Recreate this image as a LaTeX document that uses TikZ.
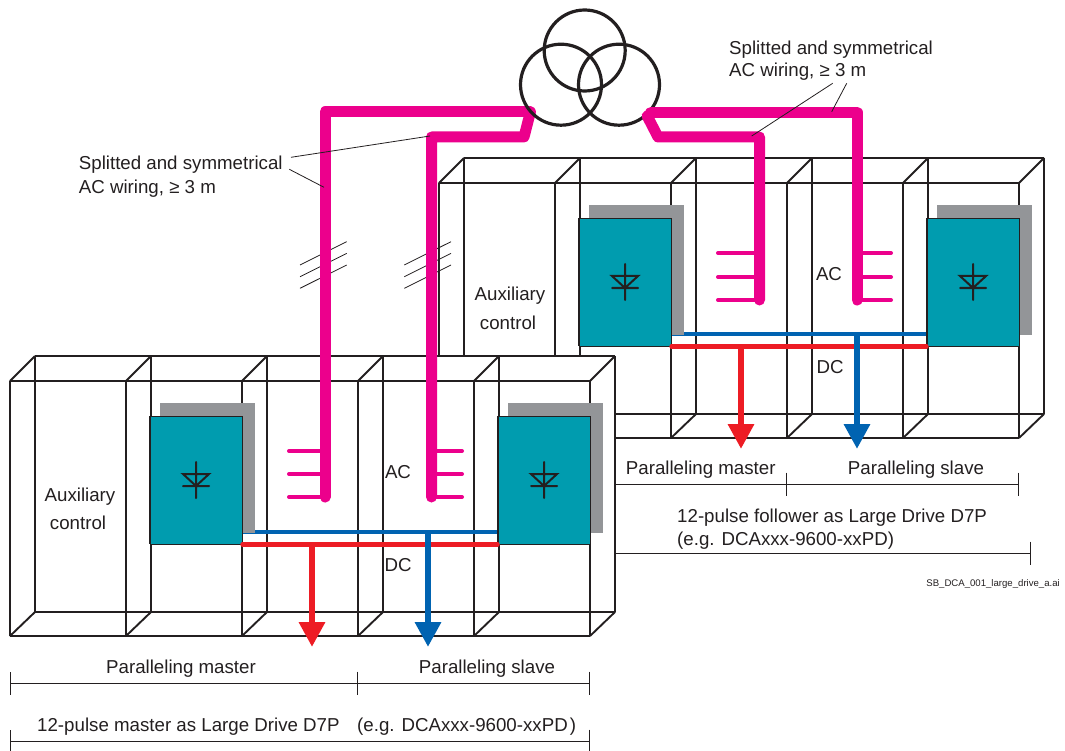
\documentclass[tikz,border=0pt]{standalone}
\usepackage{fontspec}
\setmainfont{Liberation Sans}
\usetikzlibrary{positioning, arrows.meta, calc}

\definecolor{inkc}{HTML}{231F20}
\definecolor{acpink}{HTML}{EC008C}
\definecolor{dcred}{HTML}{ED1C24}
\definecolor{dcblue}{HTML}{0063B1}
\definecolor{stackteal}{HTML}{009CAF}
\definecolor{stackgray}{HTML}{939598}

\begin{document}
\begin{tikzpicture}[
    x=1pt, y=-1pt,
    % Styles
    frame/.style={draw=inkc, line width=1.9pt},
    stack/.style={draw=inkc, line width=0.8pt, fill=stackteal, minimum width=92pt, minimum height=128pt, inner sep=0pt},
    diode/.style={draw=inkc, line width=2pt, line cap=round},
    winding/.style={draw=inkc, line width=3.2pt, circle, minimum size=81pt, inner sep=0pt},
    acwire/.style={draw=acpink, line width=11pt, line cap=round, line join=round},
    acstub/.style={draw=acpink, line width=4pt, line cap=round},
    redbus/.style={draw=dcred, line width=4.2pt, line cap=round},
    bluebus/.style={draw=dcblue, line width=4.2pt},
    reddrop/.style={draw=dcred, line width=6.5pt, -{Triangle[length=25pt, width=25pt]}},
    bluedrop/.style={draw=dcblue, line width=6.5pt, -{Triangle[length=25pt, width=25pt]}},
    leader/.style={draw=inkc, line width=0.8pt},
    dimline/.style={draw=inkc, line width=0.9pt, {Bar[width=23pt, line width=0.9pt]}-{Bar[width=23pt, line width=0.9pt]}},
    dimopen/.style={draw=inkc, line width=0.9pt, -{Bar[width=23pt, line width=0.9pt]}},
    txt/.style={inner sep=0pt, text=inkc, font=\fontsize{18.7}{25}\selectfont},
    tiny/.style={inner sep=0pt, text=inkc, font=\fontsize{9.6}{11}\selectfont}
    ]
    \useasboundingbox (0,0) rectangle (1065,751);

    % 1. Both cabinet rows, follower first so that the master row hides it
    \foreach \blk/\dx/\dy in {f/429/-198, m/0/0} {
    \begin{scope}[shift={(\dx,\dy)}]
        \fill[white] (10,381) -- (35,356) -- (615,356) -- (615,612) -- (590,636) -- (10,636) -- cycle;
        \draw[frame] (10,381) -- (590,381) (35,356) -- (615,356) (10,636) -- (590,636) (35,612) -- (615,612);
        \foreach \cx in {10,126,242,358,474,590}
            \draw[frame] (\cx,381) -- (\cx,636) (\cx+25,356) -- (\cx+25,612) (\cx,381) -- (\cx+25,356) (\cx,636) -- (\cx+25,612);

        % DC plus bar, partly under the heat sink
        \coordinate (busa\blk) at (242,532);
        \coordinate (busb\blk) at (498,532);
        \draw[bluebus] (busa\blk) -- (busb\blk);

        % Converter modules
        \foreach \mod/\mx in {a/196,b/544} {
            \fill[stackgray] (\mx-36,403) rectangle (\mx+59,533);
            \node (stack\blk\mod) [stack] at (\mx,480) {};
            \draw[frame] (stack\blk\mod.north west) -- (stack\blk\mod.south west);
            \draw[diode] (\mx,462) -- (\mx,498) (\mx-13,474) -- (\mx+13,474) -- (\mx,486) -- cycle (\mx-13,486) -- (\mx+13,486);
        }

        % DC minus bar and outputs
        \coordinate (redtip\blk) at (312,647);
        \coordinate (bluetip\blk) at (428,647);
        \draw[redbus] (stack\blk a.south east) -- (stack\blk b.south west);
        \draw[bluedrop] (bluetip\blk |- busa\blk) -- (bluetip\blk);
        \draw[reddrop] (redtip\blk |- stack\blk a.south) -- (redtip\blk);
    \end{scope}
    }

    % 2. Three-phase marks on the feeders
    \foreach \tx in {0,104.3}
        \foreach \ty in {0,11.7,23.3}
            \draw[leader] (300+\tx,265+\ty) -- (346.7+\tx,241.7+\ty);

    % 3. AC feeders to the master row, ending under the transformer
    \coordinate (feedl) at (530.4,112);
    \draw[acwire] (feedl) -| (325,497);
    \draw[acwire] (feedl) -- (524,137) -- (431.5,137) -- (431.5,497);
    \foreach \wy in {451,474,497} {
        \draw[acstub] (289,\wy) -- (325,\wy);
        \draw[acstub] (431.5,\wy) -- (462,\wy);
    }

    % 4. Transformer, then AC feeders to the follower row
    \node (wtop) [winding] at (584.7,50.5) {};
    \node (wleft) [winding] at (561,84.7) {};
    \node (wright) [winding] at (619,84.7) {};
    \draw[acwire] (wright.319.5) -| (857,300);
    \draw[acwire] (wright.312.4) -- (658,137) -- (759.5,137) -- (759.5,300);
    \foreach \wy in {253,277,300} {
        \draw[acstub] (718,\wy) -- (759.5,\wy);
        \draw[acstub] (857,\wy) -- (891,\wy);
    }

    % 5. Labels in the cabinets
    \node (auxm) [txt, anchor=base] at (80,501.5) {Auxiliary};
    \node (ctrlm) [txt, anchor=base] at (78,529) {control};
    \node (auxf) [txt, anchor=base] at (510,300.5) {Auxiliary};
    \node (ctrlf) [txt, anchor=base] at (508,329) {control};
    \node (acm) [txt, anchor=base] at (398,478.5) {AC};
    \node (dcm) [txt, anchor=base] at (398,571) {DC};
    \node (acf) [txt, anchor=base] at (829,280.5) {AC};
    \node (dcf) [txt, anchor=base] at (830,373.5) {DC};

    % 6. Wiring notes with their leaders
    \node (noteleft) [txt, anchor=base west] at (78.7,169.5) {Splitted and symmetrical};
    \node (noteleftb) [txt, anchor=base west] at (78.7,194) {AC wiring, ≥ 3 m};
    \node (noteright) [txt, anchor=base west] at (729,54.5) {Splitted and symmetrical};
    \node (noterightb) [txt, anchor=base west] at (729,76.5) {AC wiring, ≥ 3 m};
    \coordinate (leada) at (291,157.3);
    \coordinate (leadb) at (430,136);
    \coordinate (leadc) at (289.3,169.3);
    \coordinate (leadd) at (324,187.3);
    \coordinate (leade) at (832.7,83.3);
    \coordinate (leadf) at (751.7,136);
    \coordinate (leadg) at (846.7,83.3);
    \coordinate (leadh) at (831.7,111.7);
    \draw[leader] (leada) -- (leadb);
    \draw[leader] (leadc) -- (leadd);
    \draw[leader] (leade) -- (leadf);
    \draw[leader] (leadg) -- (leadh);

    % 7. Dimension lines, master row
    \coordinate (dma) at (10,683);
    \coordinate (dmb) at (358,683);
    \coordinate (dmc) at (590,683);
    \coordinate (dmd) at (10,741);
    \coordinate (dme) at (590,741);
    \draw[dimline] (dma) -- (dmb);
    \draw[dimopen] (dmb) -- (dmc);
    \draw[dimline] (dmd) -- (dme);
    \node (masterm) [txt, anchor=base] at (181,673) {Paralleling master};
    \node (slavem) [txt, anchor=base] at (487,673) {Paralleling slave};
    \node (titlem) [txt, anchor=base west] at (37,731.5) {12-pulse master as Large Drive D7P};
    \node (typem) [txt, anchor=base west] at (357,731.5) {(e.g. DCAxxx-9600-xxPD\kern 2pt)};

    % 8. Dimension lines, follower row
    \coordinate (dfa) at (615,484);
    \coordinate (dfb) at (787,484);
    \coordinate (dfc) at (1019,484);
    \coordinate (dfd) at (615,553);
    \coordinate (dfe) at (1031,553);
    \draw[dimopen] (dfa) -- (dfb);
    \draw[dimopen] (dfb) -- (dfc);
    \draw[dimopen] (dfd) -- (dfe);
    \node (masterf) [txt, anchor=base west] at (625.7,474.5) {Paralleling master};
    \node (slavef) [txt, anchor=base west] at (847.7,474.5) {Paralleling slave};
    \node (titlef) [txt, anchor=base west] at (677,522.5) {12-pulse follower as Large Drive D7P};
    \node (typef) [txt, anchor=base west] at (677,545) {(e.g. DCAxxx-9600-xxPD)};
    \node (fileid) [tiny, anchor=base east] at (1060,586) {SB\_DCA\_001\_large\_drive\_a.ai};
\end{tikzpicture}
\end{document}
